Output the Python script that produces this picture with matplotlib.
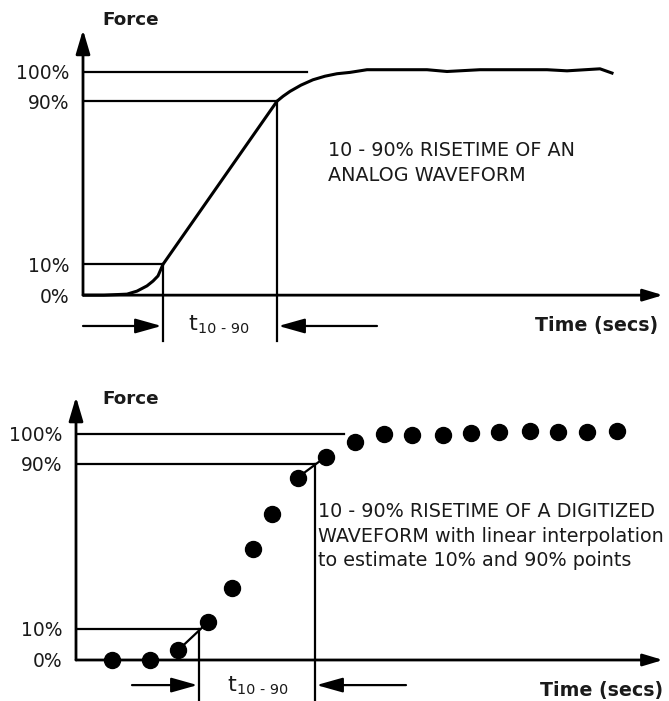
import matplotlib.pyplot as plt
from matplotlib.patches import FancyArrowPatch

# schematic heights of the 0 / 10 / 90 / 100 % lines
level_pos = [0, 13.8, 86.8, 100]
level_labels = ["0%", "10%", "90%", "100%"]

# analog waveform (top panel)
analog_t = [0, 2.1, 4.4, 5.4, 6.4, 7.0, 7.5, 8.0, 19.4, 20.0, 20.7, 21.8,
            23.0, 24.2, 25.4, 26.7, 28.4, 31.0, 34.4, 36.4, 39.7, 43.0,
            46.4, 48.4, 51.7, 52.9]
analog_f = [0, 0, 0.45, 1.8, 4.15, 6.3, 8.6, 13.8, 86.8, 89.0, 91.2, 94.0,
            96.4, 98.0, 99.1, 99.7, 100.9, 100.9, 100.9, 100.1, 100.9, 100.9,
            100.9, 100.4, 101.3, 99.4]
analog_t10, analog_t90 = 8.0, 19.4

# digitized waveform (bottom panel)
digital_t = [3.57, 7.4, 10.23, 13.23, 15.57, 17.73, 19.63, 22.17, 25.0, 27.9,
             30.8, 33.6, 36.7, 39.47, 42.3, 45.4, 48.23, 51.13, 54.07]
digital_f = [0, 0, 4.4, 16.9, 31.7, 49.0, 64.5, 80.7, 90.0, 96.6,
             100.0, 99.6, 99.6, 100.6, 101.0, 101.5, 101.0, 101.0, 101.5]
digital_t10, digital_t90 = 12.3, 23.9

TXT = "#1a1a1a"


def arrow(ax, p0, p1, lw=1.6, hl=1.6, hw=0.45):
    ax.add_patch(FancyArrowPatch(
        p0, p1, arrowstyle=f"-|>,head_length={hl},head_width={hw}",
        mutation_scale=10, lw=lw, color="black", shrinkA=0, shrinkB=0,
        clip_on=False))


def panel(ax, xmax, ylim, t10, t90, top100, vbottom, arrow_y, arr_l, arr_r,
          t_xy, yaxis_top, force_xy, time_xy, note_xy, note):
    ax.set_xlim(0, xmax)
    ax.set_ylim(*ylim)
    for s in ax.spines.values():
        s.set_visible(False)
    ax.set_xticks([])
    ax.set_yticks(level_pos, level_labels, fontsize=13.5, color=TXT)
    ax.tick_params(axis="y", length=0, pad=9.5)

    # axes with arrow heads
    arrow(ax, (0, 0), (0, yaxis_top), lw=2.0, hl=1.45, hw=0.43)
    arrow(ax, (0, 0), (xmax - 0.6, 0), lw=2.0, hl=1.2, hw=0.36)

    # level lines and time markers
    lw = 1.6
    ax.plot([0, top100], [level_pos[3]] * 2, color="black", lw=lw)
    ax.plot([0, t90], [level_pos[2]] * 2, color="black", lw=lw)
    ax.plot([0, t10], [level_pos[1]] * 2, color="black", lw=lw)
    ax.plot([t10, t10], [level_pos[1], vbottom], color="black", lw=lw,
            clip_on=False)
    ax.plot([t90, t90], [level_pos[2], vbottom], color="black", lw=lw,
            clip_on=False)
    arrow(ax, (arr_l, arrow_y), (t10 - 0.15, arrow_y))
    arrow(ax, (arr_r, arrow_y), (t90 + 0.15, arrow_y))

    tt = ax.text(*t_xy, "t", fontsize=16, va="baseline", color=TXT)
    ax.annotate("10 - 90", xy=(1, t_xy[1]), xycoords=(tt, "data"),
                xytext=(0.6, -2.2), textcoords="offset points",
                fontsize=10.4, va="baseline", color=TXT)

    ax.text(*force_xy, "Force", fontsize=13.2, fontweight="bold",
            va="center", color=TXT)
    ax.text(*time_xy, "Time (secs)", fontsize=13.7, fontweight="bold",
            ha="right", va="center", color=TXT)
    # va="baseline" pins the baseline of the last line
    ax.text(*note_xy, note, fontsize=13.8, va="baseline", linespacing=1.36,
            color=TXT)


fig = plt.figure(figsize=(6.69, 7.01), dpi=100)

ax1 = fig.add_axes([83 / 669, 351 / 701, 586 / 669, 350 / 701])
panel(ax1, 58.6, (-24.55, 132.1), analog_t10, analog_t90, 22.4, -20.5,
      -13.8, 0, 29.4, (10.5, -15.6), 118.75, (1.9, 123.0), (57.5, -13.8),
      (24.5, 51.3), "10 - 90% RISETIME OF AN\nANALOG WAVEFORM")
ax1.plot(analog_t, analog_f, color="black", lw=2.2, solid_joinstyle="round")

ax2 = fig.add_axes([76 / 669, 0, 593 / 669, 350 / 701])
panel(ax2, 59.3, (-18.14, 136.7), digital_t10, digital_t90, 26.8, -18.1,
      -11.1, 5.6, 33.0, (15.1, -13.7), 116.4, (2.6, 115.5), (58.7, -13.3),
      (24.2, 41.6),
      "10 - 90% RISETIME OF A DIGITIZED\nWAVEFORM with linear interpolation\n"
      "to estimate 10% and 90% points")
# linear interpolation segments between the samples bracketing 10% and 90%
ax2.plot(digital_t[2:4], digital_f[2:4], color="black", lw=1.6)
ax2.plot(digital_t[7:9], digital_f[7:9], color="black", lw=1.6)
ax2.plot(digital_t, digital_f, "o", color="black", ms=11.5, clip_on=False)

fig.savefig("out.png", dpi=100)
